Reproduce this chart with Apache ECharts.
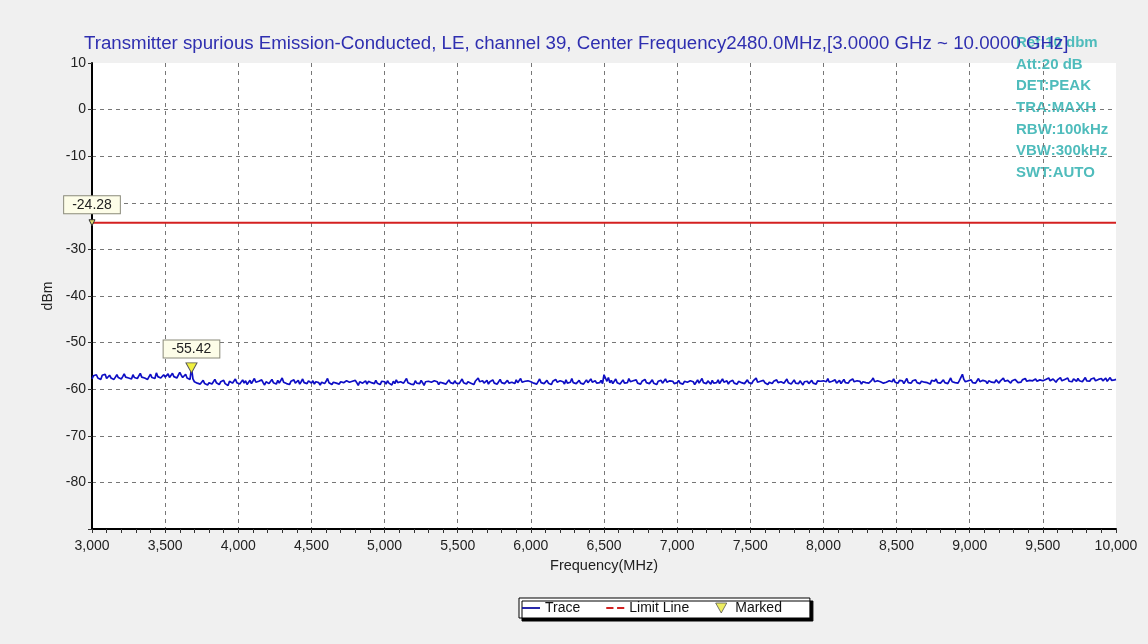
<!DOCTYPE html>
<html>
<head>
<meta charset="utf-8">
<script src="https://cdn.jsdelivr.net/npm/echarts@6/dist/echarts.min.js"></script>
<style>html,body{margin:0;padding:0;background:#f0f0f0;}#c{width:1148px;height:644px;}</style>
</head>
<body>
<div id="c"></div>
<script>
// ---- data ----
const titleText = 'Transmitter spurious Emission-Conducted, LE, channel 39, Center Frequency2480.0MHz,[3.0000 GHz ~ 10.0000 GHz]';
const infoLines = ['Ref:10 dbm', 'Att:20 dB', 'DET:PEAK', 'TRA:MAXH', 'RBW:100kHz', 'VBW:300kHz', 'SWT:AUTO'];
const freqStart = 3000;   // MHz
const freqStop = 10000;   // MHz
const sweepStep = 10;     // MHz between sweep points
const traceValues = [
  // 3000-3490
  -57.8,-57.1,-57.5,-56.9,-57.6,-57.2,-57.9,-57.0,-57.4,-56.8,
  -57.7,-57.3,-57.0,-57.6,-57.2,-57.9,-57.4,-56.9,-57.5,-57.1,
  -57.8,-57.3,-56.7,-57.4,-57.0,-57.6,-57.2,-57.8,-56.9,-57.5,
  -57.1,-57.7,-57.3,-56.6,-57.4,-57.0,-57.6,-57.2,-57.9,-57.3,
  -56.8,-57.5,-57.1,-57.7,-56.5,-57.3,-57.0,-57.6,-57.2,-56.9,
  // 3500-3990 (marker peak at 3680)
  -57.4,-57.0,-56.7,-57.5,-57.1,-56.6,-57.3,-56.9,-57.6,-57.2,
  -56.4,-57.0,-57.5,-57.1,-56.8,-57.6,-57.3,-57.9,-55.42,-57.8,
  -58.4,-58.0,-58.7,-58.3,-58.9,-58.5,-58.1,-58.8,-58.4,-59.1,
  -58.6,-58.2,-58.9,-58.5,-57.9,-58.6,-58.3,-59.0,-58.4,-58.7,
  -58.1,-58.8,-58.5,-59.2,-58.3,-58.0,-58.7,-58.4,-57.8,-58.6,
  // 4000-4490
  -58.3,-58.9,-58.5,-58.0,-58.7,-58.2,-59.0,-58.6,-58.1,-58.8,
  -58.4,-57.7,-58.5,-58.9,-58.3,-58.7,-58.0,-58.6,-59.1,-58.4,
  -58.2,-58.8,-58.5,-57.9,-58.6,-58.3,-58.9,-58.1,-58.7,-58.4,
  -57.6,-58.5,-58.2,-58.8,-58.4,-59.0,-58.3,-58.6,-58.0,-58.7,
  -58.5,-58.1,-58.9,-58.4,-57.8,-58.6,-58.3,-58.8,-58.2,-58.5,
  // 4500-4990
  -58.7,-58.2,-58.9,-58.4,-58.0,-58.6,-59.1,-58.5,-58.2,-58.8,
  -58.3,-57.7,-58.6,-58.4,-59.0,-58.5,-58.1,-58.7,-58.3,-58.9,
  -58.4,-58.0,-58.6,-58.8,-58.2,-57.8,-58.5,-58.9,-58.3,-58.7,
  -58.1,-58.6,-59.2,-58.4,-58.0,-58.7,-58.5,-58.2,-58.9,-58.3,
  -57.9,-58.6,-58.4,-58.8,-58.1,-58.7,-58.5,-59.0,-58.3,-58.6,
  // 5000-5490
  -58.4,-58.9,-58.2,-58.7,-58.5,-59.1,-58.3,-58.8,-58.0,-58.6,
  -58.9,-58.4,-58.1,-58.7,-58.5,-57.7,-58.6,-58.3,-58.9,-58.5,
  -59.0,-58.2,-58.7,-58.4,-58.8,-58.1,-58.6,-59.2,-58.4,-58.7,
  -58.3,-57.9,-58.5,-58.8,-58.2,-58.6,-58.4,-59.0,-58.5,-58.1,
  -58.7,-58.3,-58.9,-58.5,-58.0,-58.6,-58.4,-58.8,-58.2,-58.7,
  // 5500-5990
  -58.3,-58.8,-58.5,-57.8,-58.6,-58.2,-58.9,-58.4,-58.0,-58.7,
  -58.5,-59.0,-58.3,-58.6,-57.6,-58.4,-58.8,-58.2,-58.7,-58.5,
  -58.1,-58.9,-58.4,-58.6,-58.0,-58.7,-58.3,-58.9,-58.5,-57.9,
  -58.6,-58.2,-58.8,-58.4,-58.1,-58.7,-59.1,-58.5,-58.3,-58.8,
  -58.0,-58.6,-58.4,-57.7,-58.5,-58.9,-58.3,-58.7,-58.2,-58.6,
  // 6000-6490
  -58.4,-58.0,-58.7,-58.3,-58.9,-58.5,-57.8,-58.6,-58.2,-58.8,
  -58.4,-58.1,-58.7,-58.5,-59.0,-58.3,-58.6,-57.9,-58.5,-58.8,
  -58.2,-58.6,-58.4,-58.9,-58.0,-58.7,-58.3,-58.5,-57.7,-58.6,
  -58.2,-58.8,-58.4,-58.1,-58.7,-58.3,-58.9,-58.5,-58.0,-58.6,
  -58.4,-57.8,-58.5,-58.9,-58.2,-58.7,-58.3,-58.6,-58.1,-58.8,
  // 6500-6990
  -56.9,-57.6,-58.3,-57.5,-58.6,-58.1,-58.8,-58.4,-57.8,-58.6,
  -58.2,-58.9,-58.5,-58.0,-58.7,-58.3,-58.6,-57.7,-58.4,-58.8,
  -58.2,-58.6,-58.0,-58.7,-58.4,-58.9,-58.3,-58.5,-57.9,-58.6,
  -58.2,-58.8,-58.4,-58.0,-58.7,-58.5,-59.0,-58.3,-58.6,-58.1,
  -58.7,-58.4,-57.8,-58.5,-58.9,-58.2,-58.6,-58.3,-58.8,-58.4,
  // 7000-7490
  -58.6,-58.1,-58.7,-58.4,-58.9,-58.3,-57.9,-58.5,-58.8,-58.2,
  -58.6,-58.4,-59.0,-58.5,-58.0,-58.7,-58.3,-57.7,-58.6,-58.4,
  -58.8,-58.2,-58.5,-58.9,-58.1,-58.7,-58.4,-58.6,-58.0,-58.8,
  -58.3,-57.8,-58.5,-58.7,-58.2,-58.9,-58.4,-58.6,-58.1,-58.7,
  -58.5,-58.9,-58.3,-57.9,-58.6,-58.2,-58.8,-58.4,-58.0,-58.6,
  // 7500-7990
  -58.4,-58.8,-58.2,-58.6,-57.6,-58.5,-58.9,-58.3,-58.7,-58.1,
  -58.6,-58.4,-59.0,-58.5,-58.2,-58.8,-58.3,-58.7,-58.0,-58.6,
  -58.9,-58.4,-58.1,-58.7,-58.5,-57.8,-58.6,-58.3,-58.9,-58.5,
  -58.0,-58.7,-58.4,-58.8,-58.2,-58.6,-59.1,-58.4,-58.7,-58.3,
  -58.8,-58.5,-58.1,-58.7,-58.4,-58.9,-58.2,-58.6,-58.3,-58.7,
  // 8000-8490
  -58.2,-58.6,-58.4,-57.7,-58.5,-58.8,-58.3,-58.6,-58.0,-58.7,
  -58.4,-58.1,-58.8,-58.5,-57.9,-58.6,-58.3,-58.7,-58.2,-58.5,
  -57.8,-58.4,-58.7,-58.2,-58.6,-58.3,-58.9,-58.4,-58.0,-58.6,
  -58.3,-58.7,-58.5,-58.1,-57.6,-58.4,-58.8,-58.2,-58.6,-58.4,
  -58.0,-58.7,-58.3,-58.5,-58.9,-58.2,-58.6,-58.4,-57.8,-58.5,
  // 8500-8990
  -58.3,-58.7,-58.1,-58.5,-58.2,-58.8,-58.4,-57.7,-58.6,-58.3,
  -58.7,-58.2,-58.5,-58.0,-58.6,-58.4,-58.8,-58.3,-57.9,-58.5,
  -58.2,-58.6,-58.4,-58.9,-58.1,-58.5,-58.3,-57.8,-58.6,-58.2,
  -58.7,-58.4,-58.0,-58.6,-58.3,-58.8,-58.5,-57.6,-58.4,-58.2,
  -58.6,-58.3,-58.7,-58.1,-58.5,-56.8,-57.9,-58.4,-58.6,-58.2,
  // 9000-9490
  -58.5,-58.0,-58.6,-58.3,-58.7,-58.2,-57.7,-58.4,-58.6,-58.1,
  -58.5,-58.3,-58.8,-58.2,-57.8,-58.5,-58.3,-58.6,-58.0,-58.4,
  -58.7,-58.2,-58.5,-57.6,-58.3,-58.6,-58.1,-58.4,-58.7,-58.2,
  -58.5,-57.9,-58.3,-58.6,-58.2,-58.5,-58.0,-58.4,-57.7,-58.3,
  -58.6,-58.1,-58.4,-58.2,-58.6,-57.8,-58.3,-58.5,-58.0,-58.4,
  // 9500-9990
  -58.2,-58.5,-57.9,-58.3,-57.6,-58.2,-58.4,-57.8,-58.1,-58.5,
  -58.0,-58.3,-57.5,-58.2,-58.4,-57.9,-58.1,-57.6,-58.3,-58.0,
  -58.4,-57.8,-58.1,-58.3,-57.7,-58.2,-57.9,-58.4,-58.0,-57.5,
  -58.2,-58.0,-58.3,-57.8,-58.1,-57.6,-58.2,-58.4,-57.9,-58.1,
  -57.7,-58.2,-58.0,-57.6,-58.3,-57.9,-57.5,-58.1,-57.8,-58.0,
  // 10000
  -57.9
];
const limitLevel = -24.28;
const marker1 = [3000, -24.28];
const marker2 = [3680, -55.42];
const yMin = -90, yMax = 10, yStep = 10;
const xStep = 500;

const traceData = traceValues.map((v, i) => [freqStart + i * sweepStep, v]);
const limitData = [[freqStart, limitLevel], [freqStop, limitLevel]];

const chart = echarts.init(document.getElementById('c'));
const font = 'Arial, "Liberation Sans", sans-serif';
const markLabel = {
  show: true, fontFamily: font, fontSize: 14, color: '#222',
  backgroundColor: '#fdfde8', borderColor: '#8a8a7a', borderWidth: 1,
  padding: [2, 8, 1, 8]
};
chart.setOption({
  animation: false,
  backgroundColor: '#f0f0f0',
  title: {
    text: titleText, left: 79, top: 29,
    textStyle: { fontFamily: font, fontSize: 18.7, fontWeight: 'normal', color: '#2f2fb0' }
  },
  grid: { left: 92, right: 32, top: 63, bottom: 115, show: true, backgroundColor: '#ffffff', borderWidth: 0 },
  xAxis: {
    type: 'value', min: freqStart, max: freqStop, interval: xStep,
    name: 'Frequency(MHz)', nameLocation: 'middle', nameGap: 29,
    nameTextStyle: { fontFamily: font, fontSize: 14.5, color: '#222' },
    axisLine: { onZero: false, lineStyle: { color: '#000', width: 2 } },
    axisTick: { show: true, length: 4, lineStyle: { color: '#333' } },
    minorTick: { show: true, splitNumber: 5, length: 4, lineStyle: { color: '#333' } },
    axisLabel: { fontFamily: font, fontSize: 14, color: '#222', margin: 10,
      formatter: v => v.toLocaleString('en-US') },
    splitLine: { show: true, showMinLine: false, showMaxLine: false, lineStyle: { type: [4, 4], color: '#777', width: 1 } }
  },
  yAxis: {
    type: 'value', min: yMin, max: yMax, interval: yStep,
    name: 'dBm', nameLocation: 'middle', nameGap: 33, nameRotate: 90,
    nameTextStyle: { fontFamily: font, fontSize: 14, color: '#222' },
    axisLine: { show: true, onZero: false, lineStyle: { color: '#000', width: 2 } },
    axisTick: { show: true, length: 4, lineStyle: { color: '#333' } },
    axisLabel: { fontFamily: font, fontSize: 14, color: '#222', margin: 6,
      formatter: v => (v === yMin ? '' : String(v)) },
    splitLine: { show: true, showMinLine: false, showMaxLine: false, lineStyle: { type: [4, 4], color: '#777', width: 1 } }
  },
  legend: {
    left: 519, top: 598, orient: 'horizontal',
    backgroundColor: '#ffffff', borderColor: '#000', borderWidth: 1,
    shadowColor: '#000', shadowOffsetX: 3, shadowOffsetY: 3, shadowBlur: 0,
    padding: [3, 28, 3, 3], itemGap: 26, itemWidth: 18, itemHeight: 10,
    textStyle: { fontFamily: font, fontSize: 14, color: '#111' },
    data: [
      { name: 'Trace', icon: 'path://M0,4L20,4L20,6L0,6Z', itemStyle: { color: '#1010a0', borderWidth: 0 } },
      { name: 'Limit Line', icon: 'path://M0,4L8,4L8,6L0,6ZM12,4L20,4L20,6L12,6Z', itemStyle: { color: '#d02020', borderWidth: 0 } },
      { name: 'Marked', icon: 'path://M0,0L10,0L5,9Z', itemStyle: { color: '#e8e83a', borderColor: '#555', borderWidth: 1 } }
    ]
  },
  graphic: [{
    type: 'text', left: 1016, top: 32, silent: true,
    style: {
      text: infoLines.join('\n'), fill: '#4fbcbc',
      font: 'bold 15px ' + font, lineHeight: 21.7
    }
  }],
  series: [
    {
      name: 'Limit Line', type: 'line', data: limitData, symbol: 'none',
      lineStyle: { color: '#d42020', width: 2 }, z: 3,
      markPoint: {
        symbol: 'triangle', symbolRotate: 180, symbolSize: 6, symbolOffset: [0, 0],
        itemStyle: { color: '#d8d870', borderColor: '#333', borderWidth: 1 },
        label: Object.assign({}, markLabel, { position: 'top', distance: 6, formatter: String(marker1[1]) }),
        data: [{ coord: marker1 }]
      }
    },
    {
      name: 'Trace', type: 'line', data: traceData, symbol: 'none',
      lineStyle: { color: '#0e0ec4', width: 1.7 }, z: 4,
      markPoint: {
        symbol: 'triangle', symbolRotate: 180, symbolSize: [11, 10], symbolOffset: [0, 0],
        itemStyle: { color: '#f0f040', borderColor: '#555', borderWidth: 1 },
        label: Object.assign({}, markLabel, { position: 'top', distance: 5, formatter: String(marker2[1]) }),
        data: [{ coord: marker2 }]
      }
    },
    {
      name: 'Marked', type: 'scatter', data: [], symbol: 'triangle',
      itemStyle: { color: '#e8e83a' }
    }
  ]
});
</script>
</body>
</html>
